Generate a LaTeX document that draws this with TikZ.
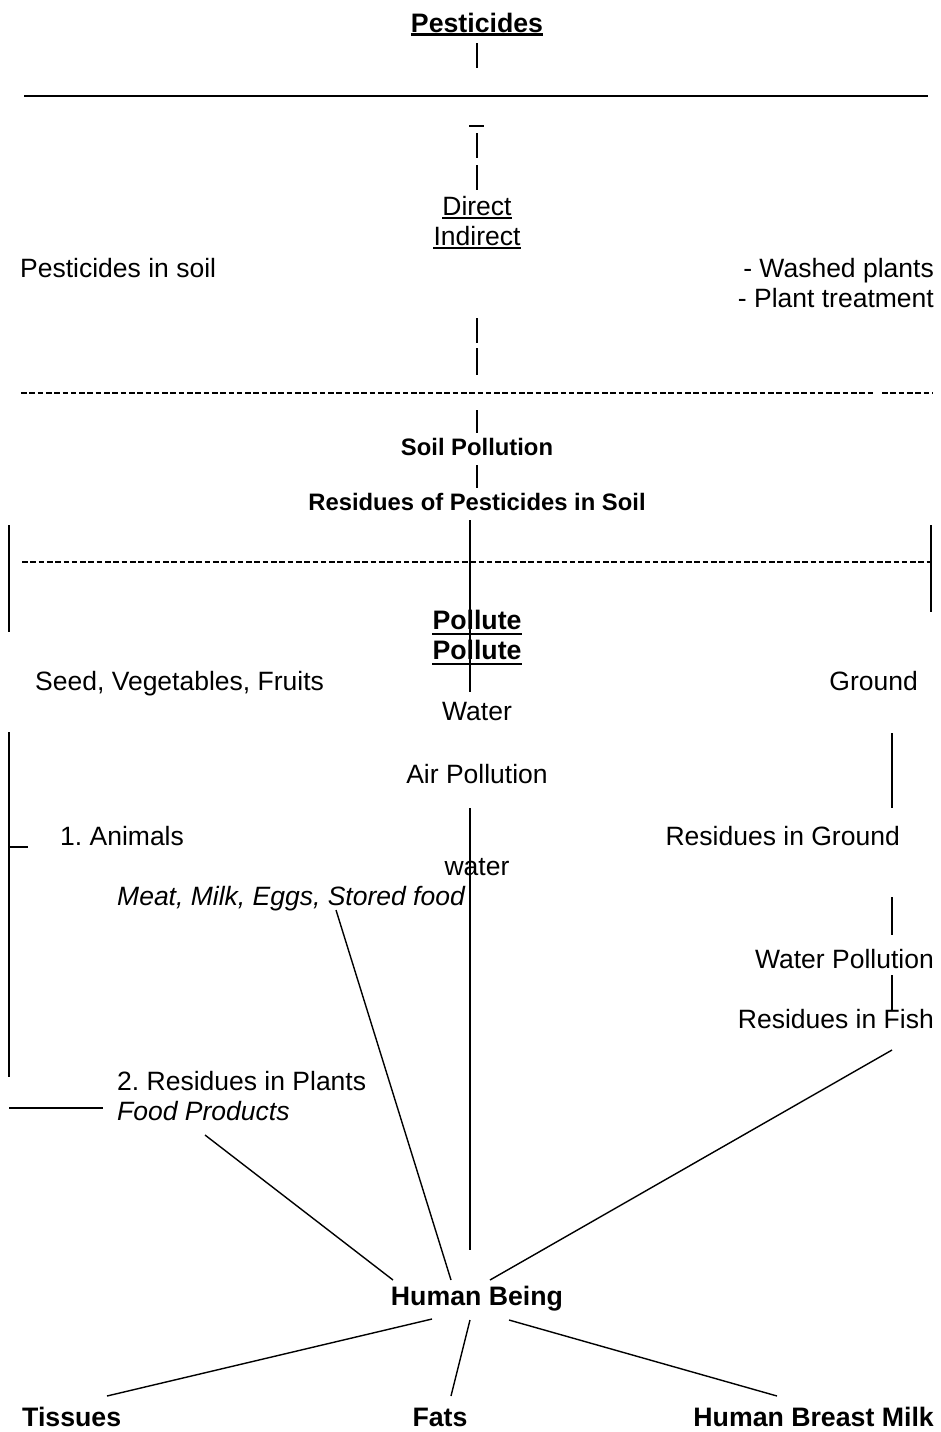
\documentclass[tikz,border=0pt]{standalone}
\usepackage{fontspec}
\setmainfont{Liberation Sans}
\frenchspacing
\begin{document}
\begin{tikzpicture}[x=1pt,y=-1pt,
  txt/.style={inner sep=0pt,font=\fontsize{26.5}{30}\selectfont},
  bt/.style={inner sep=0pt,font=\fontsize{26.7}{30}\selectfont\bfseries},
  sbt/.style={inner sep=0pt,font=\fontsize{23.8}{28}\selectfont\bfseries},
  it/.style={inner sep=0pt,font=\fontsize{26.5}{30}\selectfont\itshape},
  ln/.style={line width=1.4pt,black},
  bar/.style={line width=1.3pt,black},
  dsh/.style={line width=2.4pt,dash pattern=on 5.6pt off 2.7pt},
  ul/.style={line width=1.6pt},
  bul/.style={line width=2.2pt}]
\useasboundingbox (0,0) rectangle (941,1432);
\fill[white] (0,0) rectangle (941,1432);

% ---- nodes ----
\node[bt,anchor=base] (pest) at (477,32) {Pesticides};
\node[txt,anchor=base] (direct) at (477,215) {Direct};
\node[txt,anchor=base] (indirect) at (477,245) {Indirect};
\node[txt,anchor=base west] (psoil) at (20,277) {Pesticides in soil};
\node[txt,anchor=base east] (washed) at (934,277) {- Washed plants};
\node[txt,anchor=base east] (treat) at (934,307) {- Plant treatment};
\node[sbt,anchor=base] (soilpol) at (477,455) {Soil Pollution};
\node[sbt,anchor=base] (ressoil) at (477,510) {Residues of Pesticides in Soil};
\node[bt,anchor=base] (poll1) at (477,629) {Pollute};
\node[bt,anchor=base] (poll2) at (477,659) {Pollute};
\node[txt,anchor=base west] (seed) at (35,690) {Seed, Vegetables, Fruits};
\node[txt,anchor=base east] (ground) at (918,690) {Ground};
\node[txt,anchor=base] (water) at (477,720) {Water};
\node[txt,anchor=base] (air) at (477,783) {Air Pollution};
\node[txt,anchor=base west] (animals) at (60,845) {1. Animals};
\node[txt,anchor=base east] (resground) at (900,845) {Residues in Ground};
\node[txt,anchor=base] (water2) at (477,875) {water};
\node[it,anchor=base west] (meat) at (117,905) {Meat, Milk, Eggs, Stored food};
\node[txt,anchor=base east] (watpol) at (934,968) {Water Pollution};
\node[txt,anchor=base east] (fish) at (934,1028) {Residues in Fish};
\node[txt,anchor=base west] (plants) at (117,1090) {2. Residues in Plants};
\node[it,anchor=base west] (food) at (117,1120) {Food Products};
\node[bt,anchor=base] (human) at (477,1305) {Human Being};
\node[bt,anchor=base west] (tissues) at (22,1426) {Tissues};
\node[bt,anchor=base] (fats) at (440,1426) {Fats};
\node[bt,anchor=base east] (milk) at (934,1426) {Human Breast Milk};

% ---- underlines ----
\draw[bul] ([yshift=-2.5pt]pest.base west) -- ([yshift=-2.5pt]pest.base east);
\draw[ul] ([yshift=-3pt]direct.base west) -- ([yshift=-3pt]direct.base east);
\draw[ul] ([yshift=-3pt]indirect.base west) -- ([yshift=-3pt]indirect.base east);
\draw[bul] ([yshift=-5pt]poll1.base west) -- ([yshift=-5pt]poll1.base east);
\draw[bul] ([yshift=-5pt]poll2.base west) -- ([yshift=-5pt]poll2.base east);

% ---- coordinates ----
\coordinate (a1) at (477,43);  \coordinate (a2) at (477,68);
\coordinate (h1) at (24,96);   \coordinate (h2) at (928,96);
\coordinate (s1) at (469,126); \coordinate (s2) at (484,126);
\coordinate (b1) at (477,133); \coordinate (b2) at (477,158);
\coordinate (b3) at (477,165); \coordinate (b4) at (477,190);
\coordinate (c1) at (477,318); \coordinate (c2) at (477,343);
\coordinate (c3) at (477,348); \coordinate (c4) at (477,375);
\coordinate (d1) at (21,393);  \coordinate (d2) at (873,393);
\coordinate (d3) at (882,393); \coordinate (d4) at (932,393);
\coordinate (e1) at (477,410); \coordinate (e2) at (477,433);
\coordinate (e3) at (477,465); \coordinate (e4) at (477,488);
\coordinate (m1) at (470,520); \coordinate (m2) at (470,692);
\coordinate (f1) at (22,562);  \coordinate (f2) at (930,562);
\coordinate (l1) at (9,525);   \coordinate (l2) at (9,632);
\coordinate (r1) at (931,525); \coordinate (r2) at (931,612);
\coordinate (l3) at (9,732);   \coordinate (l4) at (9,1077);
\coordinate (t1) at (9,847);   \coordinate (t2) at (28,847);
\coordinate (g1) at (892,733); \coordinate (g2) at (892,808);
\coordinate (m3) at (470,808); \coordinate (m4) at (470,1250);
\coordinate (g3) at (892,897); \coordinate (g4) at (892,935);
\coordinate (g5) at (892,975); \coordinate (g6) at (892,1011);
\coordinate (k1) at (9,1108);  \coordinate (k2) at (103,1108);
\coordinate (fishend) at (892,1050); \coordinate (hbr) at (490,1280);
\coordinate (foodend) at (205,1135); \coordinate (hbl) at (393,1280);
\coordinate (meatend) at (336,910);  \coordinate (hbm) at (451,1280);
\coordinate (hb1) at (432,1319); \coordinate (ti) at (107,1396);
\coordinate (hb2) at (470,1320); \coordinate (fa) at (451,1396);
\coordinate (hb3) at (509,1320); \coordinate (mi) at (777,1396);

% ---- connectors ----
\draw[bar] (a1) -- (a2);
\draw[line width=1.7pt] (h1) -- (h2);
\draw[bar] (s1) -- (s2);
\draw[bar] (b1) -- (b2);
\draw[bar] (b3) -- (b4);
\draw[bar] (c1) -- (c2);
\draw[bar] (c3) -- (c4);
\draw[dsh] (d1) -- (d2);
\draw[dsh] (d3) -- (d4);
\draw[bar] (e1) -- (e2);
\draw[bar] (e3) -- (e4);
\draw[dsh] (f1) -- (f2);
\draw[ln] (m1) -- (m2);
\draw[ln] (l1) -- (l2);
\draw[ln] (r1) -- (r2);
\draw[ln] (l3) -- (l4);
\draw[ln] (t1) -- (t2);
\draw[ln] (g1) -- (g2);
\draw[ln] (m3) -- (m4);
\draw[ln] (g3) -- (g4);
\draw[ln] (g5) -- (g6);
\draw[ln] (k1) -- (k2);
\draw[ln] (fishend) -- (hbr);
\draw[ln] (foodend) -- (hbl);
\draw[ln] (meatend) -- (hbm);
\draw[ln] (hb1) -- (ti);
\draw[ln] (hb2) -- (fa);
\draw[ln] (hb3) -- (mi);
\end{tikzpicture}
\end{document}
